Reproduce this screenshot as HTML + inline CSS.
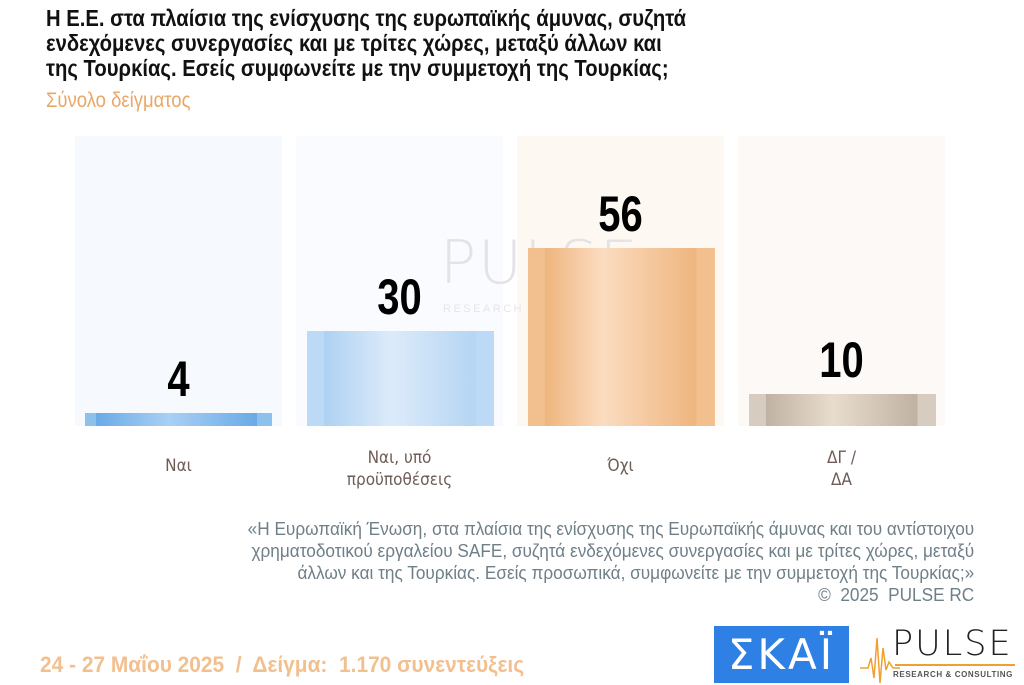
<!DOCTYPE html>
<html><head><meta charset="utf-8"><style>
*{margin:0;padding:0;box-sizing:border-box}
body{width:1024px;height:685px;background:#fff;position:relative;overflow:hidden;font-family:"Liberation Sans","Noto Sans CJK SC",sans-serif}
.a{position:absolute;white-space:nowrap}
.title{left:46px;top:6px;font-weight:bold;font-size:23px;line-height:25px;color:#111;transform:scaleX(0.88);transform-origin:0 0}
.sub{left:46px;top:89px;font-size:21px;color:#e8a868;transform:scaleX(0.88);transform-origin:0 0}
.panel{top:136px;height:290px;width:207px}
.bar{width:187px}
.num{font-weight:bold;font-size:50px;color:#000;width:207px;text-align:center;transform:scaleX(0.8)}
.cat{font-family:"DejaVu Sans Condensed","DejaVu Sans",sans-serif;font-size:17px;color:#6e5c57;width:207px;text-align:center;line-height:22px}
.note{right:50px;top:518px;text-align:right;font-size:18.5px;line-height:22px;color:#6f7f88;transform:scaleX(0.93);transform-origin:100% 0}
.foot{left:40px;top:652px;font-weight:bold;font-size:22px;color:#f2c08f;transform:scaleX(0.95);transform-origin:0 0}
</style></head><body>
<div class="a title">Η Ε.Ε. στα πλαίσια της ενίσχυσης της ευρωπαϊκής άμυνας, συζητά<br>ενδεχόμενες συνεργασίες και με τρίτες χώρες, μεταξύ άλλων και<br>της Τουρκίας. Εσείς συμφωνείτε με την συμμετοχή της Τουρκίας;</div>
<div class="a sub">Σύνολο δείγματος</div>

<div class="a panel" style="left:75px;background:#f6f9fd"></div>
<div class="a panel" style="left:296px;background:#f9fbfe"></div>
<div class="a panel" style="left:517px;background:#fdf8f2"></div>
<div class="a panel" style="left:738px;background:#fcf9f6"></div>

<div class="a" style="left:440px;top:228px;font-family:'DejaVu Sans ExtraLight','DejaVu Sans',sans-serif;font-weight:200;font-size:60px;letter-spacing:2px;color:#e3e3e6">PULSE</div>
<div class="a" style="left:443px;top:303px;font-size:11px;letter-spacing:2.5px;color:#e6e6e8">RESEARCH &amp; CONSULTING</div>

<div class="a bar" style="left:85px;top:413px;height:13px;background:linear-gradient(90deg,#8ec0ec 0 6%,#6aaae6 6%,#a9d0f4 45%,#6aaae6 92%,#8ec0ec 92%)"></div>
<div class="a bar" style="left:307px;top:331px;height:95px;background:linear-gradient(90deg,#bcdaf5 0 9%,#aed1f2 9%,#dcebfa 45%,#b5d5f3 90%,#bcdaf5 90%)"></div>
<div class="a bar" style="left:528px;top:248px;height:178px;background:linear-gradient(90deg,#f2c08f 0 9%,#eeb57e 9%,#fbdcc0 40%,#eeb57e 90%,#f2c08f 90%)"></div>
<div class="a bar" style="left:749px;top:394px;height:32px;background:linear-gradient(90deg,#d6ccc0 0 9%,#c0b2a2 9%,#e8dccd 45%,#c0b2a2 90%,#d6ccc0 90%)"></div>

<div class="a num" style="left:75px;top:350px">4</div>
<div class="a num" style="left:296px;top:268px">30</div>
<div class="a num" style="left:517px;top:185px">56</div>
<div class="a num" style="left:738px;top:331px">10</div>

<div class="a cat" style="left:75px;top:455px">Ναι</div>
<div class="a cat" style="left:296px;top:447px">Ναι, υπό<br>προϋποθέσεις</div>
<div class="a cat" style="left:517px;top:455px">Όχι</div>
<div class="a cat" style="left:738px;top:447px">ΔΓ /<br>ΔΑ</div>

<div class="a note">«Η Ευρωπαϊκή Ένωση, στα πλαίσια της ενίσχυσης της Ευρωπαϊκής άμυνας και του αντίστοιχου<br>χρηματοδοτικού εργαλείου SAFE, συζητά ενδεχόμενες συνεργασίες και με τρίτες χώρες, μεταξύ<br>άλλων και της Τουρκίας. Εσείς προσωπικά, συμφωνείτε με την συμμετοχή της Τουρκίας;»<br>©&nbsp; 2025&nbsp; PULSE RC</div>

<div class="a foot">24 - 27 Μαΐου 2025&nbsp; /&nbsp; Δείγμα:&nbsp; 1.170 συνεντεύξεις</div>

<div class="a" style="left:714px;top:626px;width:135px;height:57px;background:#2f80e4;color:#fff;font-family:'DejaVu Sans ExtraLight','DejaVu Sans',sans-serif;font-size:42px;line-height:57px;text-align:center;letter-spacing:3px">ΣΚΑΪ</div>
<svg class="a" style="left:860px;top:628px" width="40" height="57"><polyline points="0,40 8,40 11,30 14,50 17,10 20,55 23,20 26,42 29,34 33,40 40,40" fill="none" stroke="#f0a030" stroke-width="1.5"/></svg>
<div class="a" style="left:892px;top:624px;font-family:'DejaVu Sans',sans-serif;font-weight:300;font-size:35px;letter-spacing:2px;color:#222">PULSE</div>
<div class="a" style="left:895px;top:664px;width:120px;height:1.5px;background:#f0a030"></div>
<div class="a" style="left:893px;top:670px;font-weight:bold;font-size:8px;letter-spacing:0.6px;color:#555">RESEARCH &amp; CONSULTING</div>
</body></html>
